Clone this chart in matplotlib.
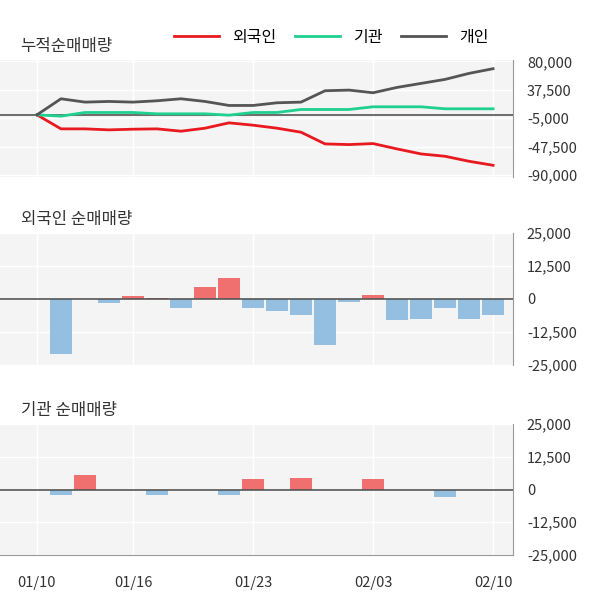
import numpy as np
import matplotlib.pyplot as plt

plt.rcParams['font.family'] = ['Noto Sans CJK JP', 'Noto Sans CJK KR', 'Noto Sans CJK SC', 'DejaVu Sans']

dates = ['01/10', '01/13', '01/14', '01/15', '01/16', '01/17', '01/20', '01/21', '01/22', '01/23',
         '01/28', '01/29', '01/30', '01/31', '02/03', '02/04', '02/05', '02/06', '02/07', '02/10']
tick_labels = ['01/10', '01/16', '01/23', '02/03', '02/10']
tick_idx = [0, 4, 9, 14, 19]

foreign_cum = [0, -21000, -21000, -22500, -21500, -21000, -24500, -20000, -12000, -15500,
               -20000, -26000, -43500, -44500, -43000, -51000, -58500, -62000, -69500, -75500]
inst_cum = [0, -2000, 3500, 3500, 3500, 1500, 1500, 1500, -500, 3500,
            3500, 8000, 8000, 8000, 12000, 12000, 12000, 9000, 9000, 9000]
indiv_cum = [0, 24000, 19000, 20000, 19000, 21000, 24000, 20000, 14000, 14000,
             18000, 19000, 36000, 37000, 33000, 41000, 47000, 53000, 62000, 69000]

foreign_daily = [0, -21000, 0, -1500, 1000, 500, -3500, 4500, 8000, -3500,
                 -4500, -6000, -17500, -1000, 1500, -8000, -7500, -3500, -7500, -6000]
inst_daily = [0, -2000, 5500, 0, 0, -2000, 0, 0, -2000, 4000,
              0, 4500, 0, 0, 4000, 0, 0, -3000, 0, 0]

x = np.arange(len(dates))
bg = '#f4f4f4'
red_bar, blue_bar = '#f07070', '#94bfe0'

fig = plt.figure(figsize=(6, 6.04), dpi=100)
W = 513 / 600
ax1 = fig.add_axes([0, 1 - 177 / 604, W, 117 / 604])
ax2 = fig.add_axes([0, 1 - 365 / 604, W, 132 / 604])
ax3 = fig.add_axes([0, 1 - 555 / 604, W, 131 / 604])

def style(ax, yticks, ylim):
    ax.set_facecolor(bg)
    ax.set_xlim(-1.54, 19.83)
    ax.set_ylim(*ylim)
    for v in yticks:
        ax.axhline(v, color='white', lw=1, zorder=0)
    for i in tick_idx:
        ax.axvline(i, color='white', lw=1, zorder=0)
    ax.yaxis.tick_right()
    ax.set_yticks(yticks)
    ax.set_yticklabels([f'{v:,}' for v in yticks], fontsize=10.5, color='#333333')
    ax.tick_params(axis='y', length=0, pad=10)
    ax.set_xticks([])
    for s in ['top', 'left', 'bottom']:
        ax.spines[s].set_visible(False)
    ax.spines['right'].set_color('#999999')

style(ax1, [80000, 37500, -5000, -47500, -90000], (-93000, 82000))
ax1.axhline(0, color='#555555', lw=1.2, zorder=1)
ax1.plot(x, foreign_cum, color='#e8191f', lw=2, label='외국인')
ax1.plot(x, inst_cum, color='#1fd090', lw=2, label='기관')
ax1.plot(x, indiv_cum, color='#555555', lw=2, label='개인')
ax1.legend(loc='lower right', bbox_to_anchor=(0.98, 1.0), ncol=3, frameon=False,
           fontsize=11.5, handlelength=2.8, columnspacing=1.2)
ax1.text(0.04, 1.08, '누적순매매량', transform=ax1.transAxes, fontsize=12, color='#333333')

for ax, vals, title in [(ax2, foreign_daily, '외국인 순매매량'), (ax3, inst_daily, '기관 순매매량')]:
    style(ax, [25000, 12500, 0, -12500, -25000], (-25000, 25000))
    cols = [red_bar if v > 0 else blue_bar for v in vals]
    ax.bar(x, vals, width=0.9, color=cols, zorder=2)
    ax.axhline(0, color='#555555', lw=1.2, zorder=3)
    ax.text(0.04, 1.07, title, transform=ax.transAxes, fontsize=12, color='#333333')

ax3.spines['bottom'].set_visible(True)
ax3.spines['bottom'].set_color('#999999')
ax3.set_xticks(tick_idx)
ax3.set_xticklabels(tick_labels, fontsize=10.5, color='#333333')
ax3.tick_params(axis='x', length=0, pad=15)

fig.savefig('out.png', dpi=100)
